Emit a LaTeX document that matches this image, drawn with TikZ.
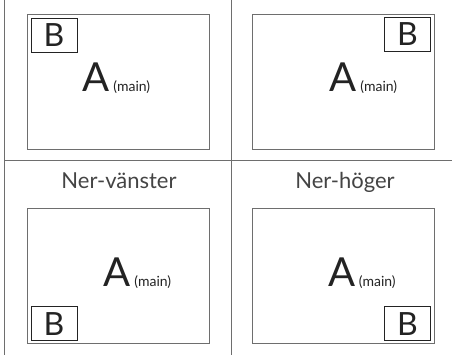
\documentclass[tikz,border=0pt]{standalone}
\usepackage{fontspec}
\setmainfont{Lato}
\usepackage{xcolor}
\usetikzlibrary{positioning,calc}

\definecolor{rulegray}{RGB}{110,110,110}
\definecolor{inkgray}{RGB}{35,35,35}

\tikzset{
  screen/.style = {draw=rulegray, line width=0.9pt, minimum width=182pt, minimum height=135pt, inner sep=0pt},
  pipbox/.style = {draw=inkgray, line width=0.8pt, minimum width=46pt, minimum height=34pt, inner sep=0pt,
                   font=\fontsize{32}{32}\selectfont, text=inkgray},
  bigA/.style   = {anchor=base, inner sep=0pt, font=\fontsize{40}{40}\selectfont, text=inkgray},
  tag/.style    = {anchor=base west, inner sep=0pt, font=\fontsize{14}{14}\selectfont, text=inkgray},
  caption/.style= {anchor=base, inner sep=0pt, font=\fontsize{22}{22}\selectfont, text=inkgray!85},
  divider/.style= {draw=rulegray, line width=0.9pt}
}

\begin{document}
\begin{tikzpicture}[x=1pt,y=-1pt]
  \useasboundingbox (0,0) rectangle (452,355);

  % dividers
  \coordinate (lt) at (4,0);
  \coordinate (lb) at (4,355);
  \coordinate (mt) at (231,0);
  \coordinate (mb) at (231,355);
  \coordinate (hl) at (4,160);
  \coordinate (hr) at (452,160);
  \path[divider] (lt) -- (lb);
  \path[divider] (mt) -- (mb);
  \path[divider] (hl) -- (hr);

  % upp-vanster
  \node[screen] (scrTL) at (118,81.5) {};
  \node[pipbox, anchor=north west] (pipTL) at ($(scrTL.north west)+(4,4)$) {B};
  \node[bigA] (aTL) at (96.5,92) {A};
  \node[tag] (mainTL) at ($(aTL.base east)+(3,0)$) {(main)};

  % upp-hoger
  \node[screen] (scrTR) at (343.5,81.5) {};
  \node[pipbox, anchor=north east] (pipTR) at ($(scrTR.north east)+(-4,3)$) {B};
  \node[bigA] (aTR) at (343.5,92) {A};
  \node[tag] (mainTR) at ($(aTR.base east)+(3,0)$) {(main)};

  % ner-vanster
  \node[caption] (capBL) at (119,189) {Ner-vänster};
  \node[screen] (scrBL) at (118,276) {};
  \node[pipbox, anchor=south west] (pipBL) at ($(scrBL.south west)+(4,-3)$) {B};
  \node[bigA] (aBL) at (117.5,286) {A};
  \node[tag] (mainBL) at ($(aBL.base east)+(3,0)$) {(main)};

  % ner-hoger
  \node[caption] (capBR) at (345,189) {Ner-höger};
  \node[screen] (scrBR) at (343.5,276) {};
  \node[pipbox, anchor=south east] (pipBR) at ($(scrBR.south east)+(-4,-3)$) {B};
  \node[bigA] (aBR) at (342,286) {A};
  \node[tag] (mainBR) at ($(aBR.base east)+(3,0)$) {(main)};
\end{tikzpicture}
\end{document}
